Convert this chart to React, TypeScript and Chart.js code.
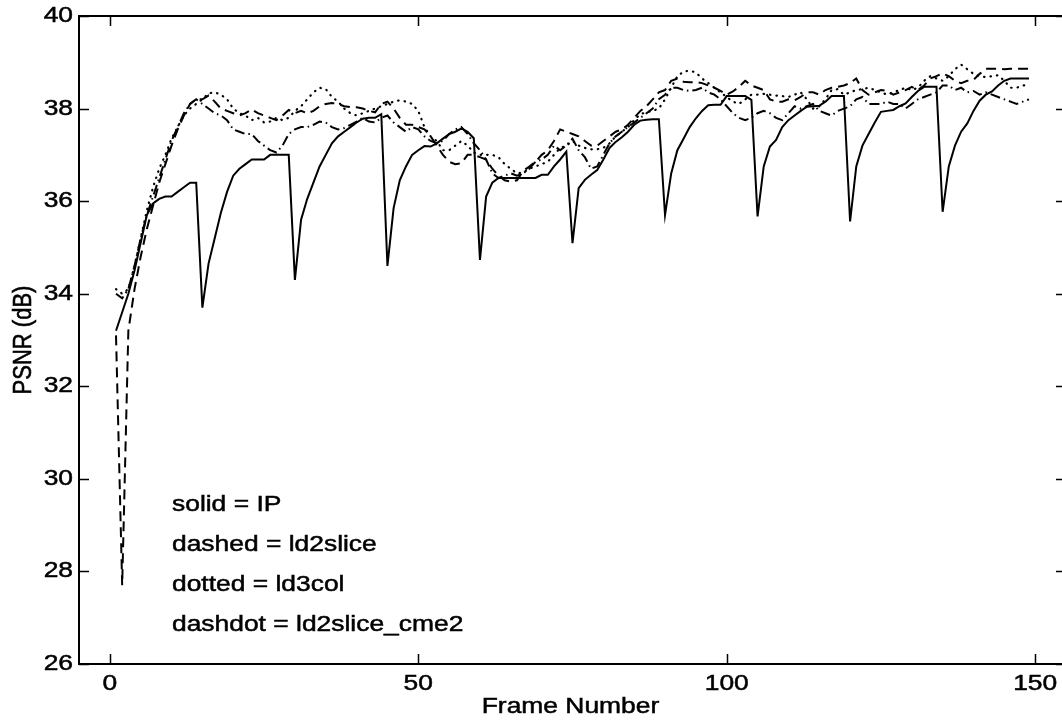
import React, { useEffect, useRef } from "react";
import { Chart, registerables } from "chart.js";

Chart.register(...registerables);

// ---------- data ----------
const frames = Array.from({ length: 149 }, (_, i) => i + 1);

const ipValues = [
  33.2, 33.6, 34.0, 34.5, 35.1, 35.7, 35.95, 36.05, 36.1, 36.1,
  36.2, 36.3, 36.4, 36.4, 33.7, 34.65, 35.2, 35.75, 36.2, 36.55,
  36.7, 36.8, 36.9, 36.9, 36.9, 37.0, 37.0, 37.0, 37.0, 34.3,
  35.6, 36.05, 36.4, 36.75, 37.0, 37.25, 37.4, 37.5, 37.6, 37.7,
  37.78, 37.8, 37.8, 37.88, 34.6, 35.85, 36.45, 36.75, 37.0, 37.1,
  37.19, 37.18, 37.25, 37.35, 37.45, 37.5, 37.57, 37.5, 37.36, 34.73,
  36.1, 36.4, 36.5, 36.5, 36.5, 36.5, 36.5, 36.5, 36.5, 36.57,
  36.57, 36.75, 36.9, 37.07, 35.09, 36.28, 36.46, 36.57, 36.67, 36.9,
  37.15, 37.28, 37.38, 37.5, 37.65, 37.74, 37.76, 37.77, 37.77, 35.7,
  36.6, 37.1, 37.35, 37.6, 37.79, 37.95, 38.07, 38.08, 38.08, 38.27,
  38.27, 38.27, 38.27, 38.19, 35.67, 36.75, 37.18, 37.32, 37.6, 37.75,
  37.85, 37.95, 38.04, 38.05, 38.06, 38.15, 38.27, 38.27, 38.27, 35.56,
  36.75, 37.2, 37.45, 37.7, 37.93, 37.95, 37.97, 38.05, 38.11, 38.25,
  38.38, 38.47, 38.47, 38.47, 35.77, 36.75, 37.2, 37.5, 37.68, 37.95,
  38.17, 38.3, 38.37, 38.5, 38.6, 38.65, 38.65, 38.65, 38.65,
];

const ld2sliceValues = [
  33.1, 27.7, 33.2, 34.1, 34.8, 35.4, 35.9, 36.4, 36.8, 37.2,
  37.55, 37.85, 38.1, 38.2, 38.2, 38.28, 38.15, 38.0, 37.95, 37.9,
  37.85, 37.9, 37.98, 37.9, 37.85, 37.8, 37.75, 37.85, 37.97, 37.9,
  37.95, 37.9, 37.95, 38.05, 38.1, 38.12, 38.1, 38.05, 38.03, 38.03,
  38.0, 37.95, 37.92, 38.1, 38.15, 38.0, 37.8, 37.65, 37.65, 37.6,
  37.55, 37.4, 37.2, 37.0, 36.85, 36.8, 36.82, 37.0, 37.0, 36.95,
  36.9, 36.7, 36.55, 36.45, 36.42, 36.45, 36.65, 36.75, 36.85, 37.0,
  37.1, 37.3, 37.55, 37.5, 37.45, 37.4, 37.3, 37.2, 37.2, 37.3,
  37.4, 37.5, 37.55, 37.65, 37.8, 37.95, 38.05, 38.2, 38.35, 38.4,
  38.6, 38.65, 38.58, 38.57, 38.57, 38.55, 38.5, 38.45, 38.38, 38.3,
  38.37, 38.47, 38.6, 38.5, 38.45, 38.4, 38.2, 38.15, 38.15, 38.2,
  38.18, 38.25, 38.35, 38.35, 38.3, 38.4, 38.45, 38.47, 38.5, 38.55,
  38.65, 38.4, 38.3, 38.35, 38.4, 38.38, 38.3, 38.35, 38.4, 38.47,
  38.4, 38.5, 38.65, 38.7, 38.76, 38.7, 38.6, 38.55, 38.6, 38.62,
  38.75, 38.86, 38.86, 38.86, 38.85, 38.86, 38.86, 38.86, 38.86,
];

const ld3colValues = [
  34.1, 34.0, 34.1, 34.6, 35.2, 35.8, 36.3, 36.7, 37.0, 37.35,
  37.6, 37.85, 38.0, 38.1, 38.2, 38.33, 38.35, 38.3, 38.2, 38.0,
  37.9, 37.85, 37.75, 37.8, 37.7, 37.72, 37.8, 37.75, 37.8, 37.95,
  38.05, 38.2, 38.35, 38.45, 38.42, 38.25, 38.15, 38.0, 37.9, 37.85,
  37.9, 37.95, 38.0, 38.05, 38.1, 38.15, 38.18, 38.15, 38.1, 37.95,
  37.6, 37.4, 37.3, 37.1, 37.1, 37.2, 37.3, 37.2, 37.05, 37.0,
  37.0, 37.0, 36.95, 36.8, 36.7, 36.6, 36.62, 36.7, 36.75, 36.8,
  36.85, 37.0, 37.15, 37.2, 37.3, 37.2, 37.15, 37.12, 37.12, 37.15,
  37.25, 37.4, 37.5, 37.6, 37.75, 37.88, 37.92, 37.95, 38.0, 38.2,
  38.45, 38.7, 38.8, 38.82, 38.78, 38.65, 38.55, 38.45, 38.35, 38.25,
  38.15, 38.1, 38.2, 38.3, 38.3, 38.32, 38.3, 38.28, 38.27, 38.25,
  38.3, 38.35, 38.2, 38.0, 38.05, 38.2, 38.4, 38.42, 38.3, 38.35,
  38.4, 38.42, 38.45, 38.4, 38.35, 38.3, 38.35, 38.4, 38.45, 38.4,
  38.45, 38.6, 38.7, 38.65, 38.6, 38.7, 38.85, 38.95, 38.85, 38.75,
  38.7, 38.68, 38.7, 38.72, 38.6, 38.45, 38.45, 38.5, 38.5,
];

const cme2Values = [
  34.0, 33.9, 34.1, 34.6, 35.2, 35.7, 36.1, 36.5, 36.9, 37.3,
  37.6, 37.9, 38.1, 38.2, 38.1, 38.0, 37.9, 37.85, 37.75, 37.55,
  37.5, 37.45, 37.45, 37.3, 37.2, 37.1, 37.05, 37.2, 37.45, 37.55,
  37.6, 37.6, 37.65, 37.72, 37.7, 37.6, 37.55, 37.58, 37.65, 37.72,
  37.8, 37.72, 37.7, 37.8, 37.85, 37.7, 37.6, 37.5, 37.6, 37.55,
  37.4, 37.3, 37.25, 37.3, 37.45, 37.55, 37.6, 37.45, 37.25, 37.1,
  36.9, 36.6, 36.5, 36.55, 36.6, 36.55, 36.6, 36.7, 36.85, 36.9,
  37.0, 37.2, 37.1, 37.2, 37.35, 37.1, 36.95, 36.7, 36.75, 37.0,
  37.25, 37.4, 37.5, 37.6, 37.7, 37.8, 37.9, 38.0, 38.2, 38.3,
  38.45, 38.45, 38.4, 38.38, 38.4, 38.45, 38.35, 38.3, 38.2, 38.05,
  37.9, 37.8, 37.75, 37.8, 37.9, 37.95, 37.9, 37.8, 37.75, 37.9,
  38.05, 38.0, 38.05, 38.1, 37.95, 37.9, 37.85, 37.95, 38.0, 38.05,
  38.2, 38.25, 38.1, 38.1, 38.1, 38.15, 38.1, 38.1, 38.0, 38.1,
  38.2, 38.25, 38.3, 38.35, 38.5, 38.5, 38.4, 38.45, 38.35, 38.38,
  38.3, 38.35, 38.3, 38.25, 38.2, 38.15, 38.1, 38.15, 38.2,
];

const xTickValues = [0, 50, 100, 150];
const yTickValues = [26, 28, 30, 32, 34, 36, 38, 40];
const xTitle = "Frame Number";
const yTitle = "PSNR (dB)";
const noteLines = [
  "solid = IP",
  "dashed = ld2slice",
  "dotted = ld3col",
  "dashdot = ld2slice_cme2",
];

// ---------- styling ----------
const FONT = '"Liberation Sans", Arial, Helvetica, sans-serif';
const SX = 1.2; // the reference's text is horizontally stretched
const FONT_SIZE = 22;
const CANVAS_W = 1072;
const CANVAS_H = 721;

function drawText(
  ctx: CanvasRenderingContext2D,
  text: string,
  x: number,
  y: number,
  align: CanvasTextAlign,
  size: number,
  rotate = false
) {
  ctx.save();
  ctx.font = `${size}px ${FONT}`;
  ctx.fillStyle = "#000";
  ctx.strokeStyle = "#000";
  ctx.lineWidth = 0.5;
  ctx.textAlign = align;
  ctx.textBaseline = "middle";
  ctx.translate(x, y);
  if (rotate) {
    ctx.rotate(-Math.PI / 2);
    ctx.scale(1, SX);
  } else {
    ctx.scale(SX, 1);
  }
  ctx.fillText(text, 0, 0);
  ctx.strokeText(text, 0, 0);
  ctx.restore();
}

const framePlugin = {
  id: "matlabFrame",
  afterDraw(chart: any) {
    const { ctx, chartArea } = chart;
    const { left, right, top, bottom } = chartArea;
    const xs = chart.scales.x;
    const ys = chart.scales.y;
    ctx.save();
    ctx.strokeStyle = "#000";
    ctx.lineWidth = 2;
    ctx.strokeRect(left, top, right - left, bottom - top);
    const TL = 10;
    ctx.lineWidth = 1.5;
    ctx.beginPath();
    for (const v of xTickValues) {
      const px = Math.round(xs.getPixelForValue(v)) + 0.5;
      ctx.moveTo(px, bottom);
      ctx.lineTo(px, bottom - TL);
      ctx.moveTo(px, top);
      ctx.lineTo(px, top + TL);
    }
    for (const v of yTickValues) {
      const py = Math.round(ys.getPixelForValue(v)) + 0.5;
      ctx.moveTo(left, py);
      ctx.lineTo(left + TL, py);
      ctx.moveTo(right, py);
      ctx.lineTo(right - TL, py);
    }
    ctx.stroke();
    ctx.restore();

    for (const v of xTickValues) {
      drawText(ctx, String(v), xs.getPixelForValue(v), bottom + 20, "center", FONT_SIZE);
    }
    for (const v of yTickValues) {
      drawText(ctx, String(v), left - 6, ys.getPixelForValue(v), "right", FONT_SIZE);
    }
    drawText(ctx, xTitle, (left + right) / 2 - 2, 707, "center", FONT_SIZE);
    drawText(ctx, yTitle, 24, 340, "center", FONT_SIZE, true);

    noteLines.forEach((t, i) => {
      drawText(ctx, t, 172, 505 + i * 40, "left", FONT_SIZE);
    });
  },
};

export default function App() {
  const ref = useRef<HTMLCanvasElement | null>(null);

  useEffect(() => {
    document.body.style.margin = "0";
    document.body.style.overflow = "hidden";
    const canvas = ref.current;
    if (!canvas) return;
    const mk = (vals: number[]) => vals.map((y, i) => ({ x: frames[i], y }));
    const common = {
      borderColor: "#000",
      backgroundColor: "#000",
      pointRadius: 0,
      fill: false,
      tension: 0,
    };
    const chart = new Chart(canvas, {
      type: "line",
      data: {
        datasets: [
          { ...common, label: "IP", data: mk(ipValues), borderWidth: 2 },
          { ...common, label: "ld2slice", data: mk(ld2sliceValues), borderWidth: 2, borderDash: [10, 6] },
          {
            ...common,
            label: "ld3col",
            data: mk(ld3colValues),
            borderWidth: 2.2,
            borderDash: [0.5, 6],
            borderCapStyle: "round",
          },
          { ...common, label: "ld2slice_cme2", data: mk(cme2Values), borderWidth: 2, borderDash: [10, 4, 1.5, 4] },
        ],
      },
      options: {
        responsive: false,
        animation: false,
        devicePixelRatio: 1,
        events: [],
        layout: { padding: { left: 79, right: 6, top: 16, bottom: 57 } },
        plugins: { legend: { display: false }, tooltip: { enabled: false }, title: { display: false } },
        scales: {
          x: { type: "linear", display: false, min: -5, max: 155, ticks: { stepSize: 50, includeBounds: false } },
          y: { type: "linear", display: false, min: 26, max: 40, ticks: { stepSize: 2 } },
        },
      },
      plugins: [framePlugin],
    } as any);
    return () => chart.destroy();
  }, []);

  return (
    <div
      style={{
        position: "fixed",
        left: 0,
        top: 0,
        width: 1062,
        height: CANVAS_H,
        overflow: "hidden",
        background: "#fff",
      }}
    >
      <canvas
        ref={ref}
        width={CANVAS_W}
        height={CANVAS_H}
        style={{ width: CANVAS_W, height: CANVAS_H, display: "block" }}
      />
    </div>
  );
}
